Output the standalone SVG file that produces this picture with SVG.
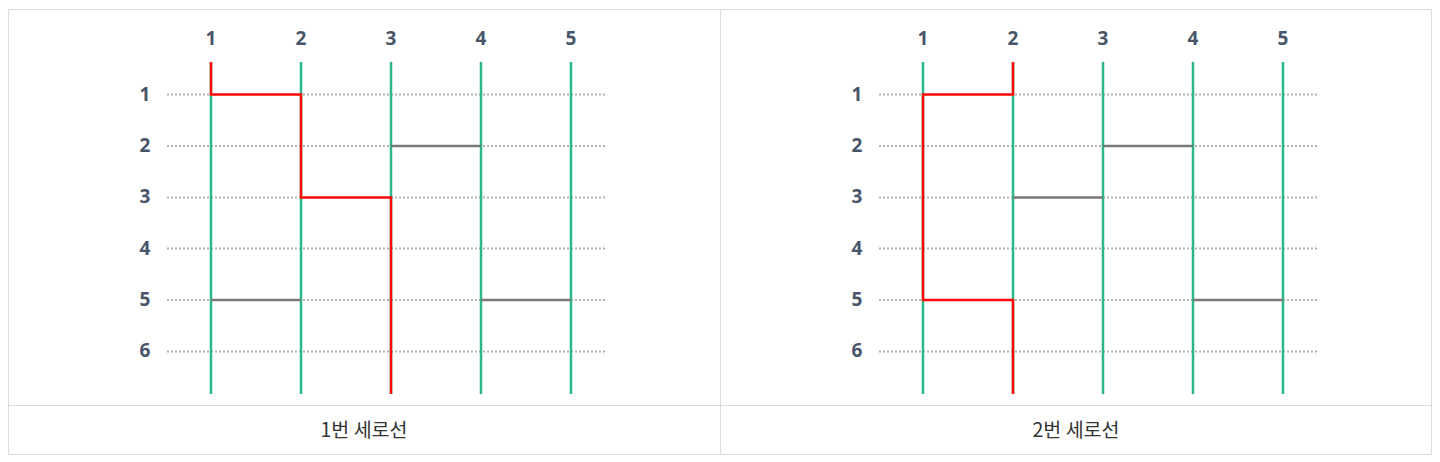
<svg xmlns="http://www.w3.org/2000/svg" width="1440" height="462" viewBox="0 0 1440 462">
<style>
.bg{fill:#fff}
.border{fill:none;stroke:#dcdcdc;stroke-width:1}
.dot{stroke:#b4b4b4;stroke-width:2;stroke-dasharray:2 2;fill:none}
.rail{stroke:#2bb68c;stroke-width:2.5;fill:none}
.rung{stroke:#7a7a7a;stroke-width:2.5;fill:none}
.path{stroke:#ff0a0a;stroke-width:2.5;fill:none;stroke-linejoin:miter}
.lbl{font-family:"Noto Sans","Liberation Sans",sans-serif;font-weight:bold;font-size:19px;fill:#485569;text-anchor:middle}
.cap{font-family:"Noto Sans CJK KR","Noto Sans",sans-serif;font-size:19.5px;fill:#333;text-anchor:middle}
</style>
<rect class="bg" x="0" y="0" width="1440" height="462"/>
<g id="table">
<rect class="border" x="8.5" y="9.5" width="1423" height="445"/>
<line class="border" x1="720.5" y1="9.5" x2="720.5" y2="454.5"/>
<line class="border" x1="8.5" y1="405.5" x2="1431.5" y2="405.5"/>
</g>
<g id="panel1">
<g id="p1-cols">
<text class="lbl" x="211" y="45">1</text>
<text class="lbl" x="301" y="45">2</text>
<text class="lbl" x="391" y="45">3</text>
<text class="lbl" x="481" y="45">4</text>
<text class="lbl" x="571" y="45">5</text>
</g>
<g id="p1-rows">
<text class="lbl" x="145" y="101">1</text>
<text class="lbl" x="145" y="152">2</text>
<text class="lbl" x="145" y="203">3</text>
<text class="lbl" x="145" y="255">4</text>
<text class="lbl" x="145" y="306">5</text>
<text class="lbl" x="145" y="357">6</text>
</g>
<g id="p1-grid">
<line class="dot" x1="167" y1="94.5" x2="607" y2="94.5"/>
<line class="dot" x1="167" y1="146" x2="607" y2="146"/>
<line class="dot" x1="167" y1="197.5" x2="607" y2="197.5"/>
<line class="dot" x1="167" y1="248.5" x2="607" y2="248.5"/>
<line class="dot" x1="167" y1="300" x2="607" y2="300"/>
<line class="dot" x1="167" y1="351.5" x2="607" y2="351.5"/>
</g>
<g id="p1-rails">
<line class="rail" x1="211" y1="62" x2="211" y2="394"/>
<line class="rail" x1="301" y1="62" x2="301" y2="394"/>
<line class="rail" x1="391" y1="62" x2="391" y2="394"/>
<line class="rail" x1="481" y1="62" x2="481" y2="394"/>
<line class="rail" x1="571" y1="62" x2="571" y2="394"/>
</g>
<g id="p1-rungs">
<line class="rung" x1="391" y1="146" x2="481" y2="146"/>
<line class="rung" x1="211" y1="300" x2="301" y2="300"/>
<line class="rung" x1="481" y1="300" x2="571" y2="300"/>
</g>
<path id="p1-route" class="path" d="M211 62 V94.5 H301 V197.5 H391 V394"/>
<text id="p1-caption" class="cap" x="364" y="437">1번 세로선</text>
</g>
<g id="panel2">
<g id="p2-cols">
<text class="lbl" x="923" y="45">1</text>
<text class="lbl" x="1013" y="45">2</text>
<text class="lbl" x="1103" y="45">3</text>
<text class="lbl" x="1193" y="45">4</text>
<text class="lbl" x="1283" y="45">5</text>
</g>
<g id="p2-rows">
<text class="lbl" x="857" y="101">1</text>
<text class="lbl" x="857" y="152">2</text>
<text class="lbl" x="857" y="203">3</text>
<text class="lbl" x="857" y="255">4</text>
<text class="lbl" x="857" y="306">5</text>
<text class="lbl" x="857" y="357">6</text>
</g>
<g id="p2-grid">
<line class="dot" x1="879" y1="94.5" x2="1319" y2="94.5"/>
<line class="dot" x1="879" y1="146" x2="1319" y2="146"/>
<line class="dot" x1="879" y1="197.5" x2="1319" y2="197.5"/>
<line class="dot" x1="879" y1="248.5" x2="1319" y2="248.5"/>
<line class="dot" x1="879" y1="300" x2="1319" y2="300"/>
<line class="dot" x1="879" y1="351.5" x2="1319" y2="351.5"/>
</g>
<g id="p2-rails">
<line class="rail" x1="923" y1="62" x2="923" y2="394"/>
<line class="rail" x1="1013" y1="62" x2="1013" y2="394"/>
<line class="rail" x1="1103" y1="62" x2="1103" y2="394"/>
<line class="rail" x1="1193" y1="62" x2="1193" y2="394"/>
<line class="rail" x1="1283" y1="62" x2="1283" y2="394"/>
</g>
<g id="p2-rungs">
<line class="rung" x1="1103" y1="146" x2="1193" y2="146"/>
<line class="rung" x1="1013" y1="197.5" x2="1103" y2="197.5"/>
<line class="rung" x1="1193" y1="300" x2="1283" y2="300"/>
</g>
<path id="p2-route" class="path" d="M1013 62 V94.5 H923 V300 H1013 V394"/>
<text id="p2-caption" class="cap" x="1076" y="437">2번 세로선</text>
</g>
</svg>
